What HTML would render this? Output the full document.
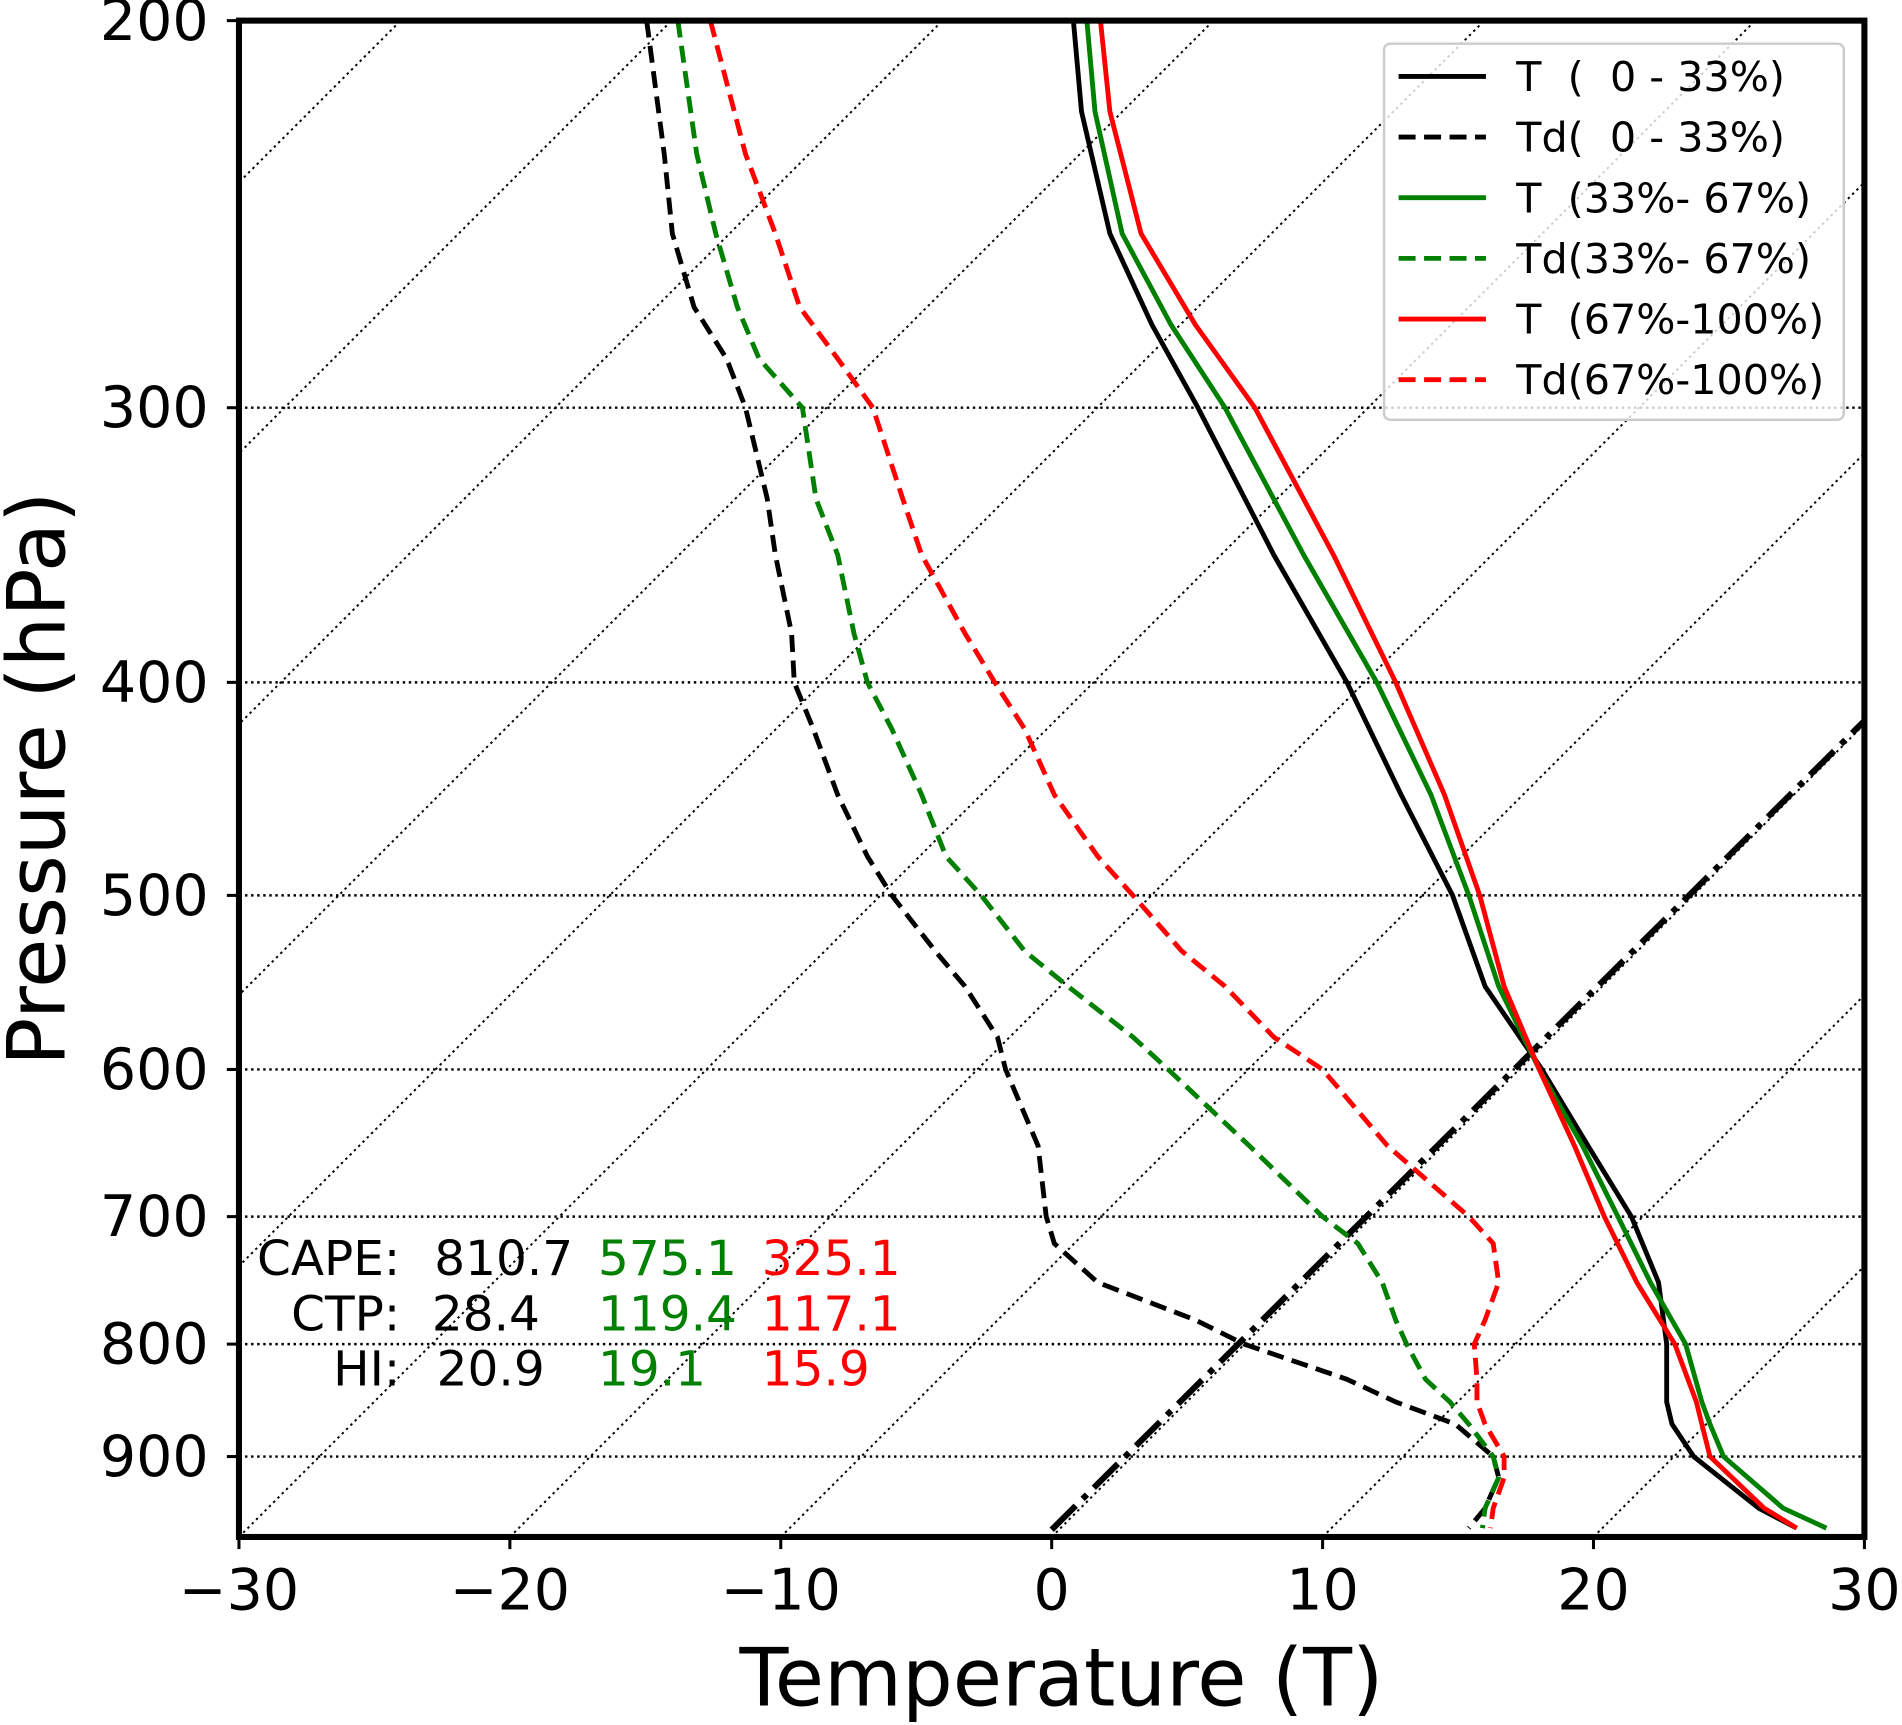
<!DOCTYPE html>
<html><head><meta charset="utf-8"><style>
html,body{margin:0;padding:0;background:#fff;}
svg{display:block;font-family:"DejaVu Sans","Liberation Sans",sans-serif;}
</style></head><body>
<svg id="chart" width="1902" height="1725" viewBox="0 0 1568 1422" preserveAspectRatio="none" xmlns="http://www.w3.org/2000/svg">
<defs><clipPath id="plotclip"><rect x="197" y="17" width="1340" height="1250"/></clipPath></defs>
<g id="grid" clip-path="url(#plotclip)"></g>
<g id="series" clip-path="url(#plotclip)"></g>
<rect x="197" y="17" width="1340" height="1250" fill="none" stroke="#000" stroke-width="5"/>
<g id="axes"></g>
<text x="875" y="1406" font-size="66" text-anchor="middle">Temperature (T)</text>
<text transform="translate(53,642) rotate(-90)" font-size="66" text-anchor="middle">Pressure (hPa)</text>
<g>
<rect x="1141" y="36" width="379" height="310" rx="5" fill="#fff" fill-opacity="0.8" stroke="#ccc" stroke-width="2"/>
<g id="legend-items" font-size="34"></g>
</g>
<g font-size="40">
<text x="330" y="1051" text-anchor="end">CAPE:</text>
<text x="330" y="1097" text-anchor="end">CTP:</text>
<text x="330" y="1142" text-anchor="end">HI:</text>
<text x="358" y="1051">810.7</text><text x="493" y="1051" fill="#008000">575.1</text><text x="628" y="1051" fill="#ff0000">325.1</text>
<text x="356" y="1097">28.4</text><text x="493" y="1097" fill="#008000">119.4</text><text x="628" y="1097" fill="#ff0000">117.1</text>
<text x="360" y="1142">20.9</text><text x="493" y="1142" fill="#008000">19.1</text><text x="628" y="1142" fill="#ff0000">15.9</text>
</g>
</svg>
<script>
const pLevels = [200,220,250,275,300,350,400,450,500,550,600,650,700,750,800,850,870,900,950,970];
const tLow  = [0.8,1.1,2.15,3.7,5.4,8.2,10.9,12.9,14.8,16.0,18.1,19.8,21.4,22.4,22.7,22.7,22.9,23.7,26.1,27.5];
const tMid  = [1.3,1.6,2.6,4.4,6.4,9.3,12.0,14.0,15.4,16.5,18.0,19.6,20.9,22.1,23.4,24.0,24.3,24.8,27.0,28.6];
const tHigh = [1.8,2.15,3.3,5.3,7.5,10.4,12.7,14.5,15.8,16.7,18.0,19.3,20.4,21.6,23.0,23.8,24.0,24.3,26.3,27.5];
const pDew = [200,230,250,270,285,300,330,350,380,400,420,450,480,500,530,550,580,600,650,700,720,750,780,800,830,850,870,900,920,950,970];
const tdLow  = [-14.95,-14.3,-14.0,-13.2,-12.0,-11.3,-10.5,-10.2,-9.6,-9.5,-8.8,-7.9,-6.8,-5.9,-4.3,-3.2,-2.0,-1.7,-0.5,-0.2,0.1,1.7,5.3,7.1,10.9,12.7,14.9,16.3,16.5,16.0,15.4];
const tdMid  = [-13.8,-13.1,-12.4,-11.6,-10.8,-9.2,-8.7,-7.9,-7.3,-6.8,-5.9,-4.8,-3.9,-2.6,-1.0,0.6,3.0,4.3,7.3,10.0,11.3,12.2,12.7,13.1,13.8,14.7,15.4,16.3,16.5,16.0,15.9];
const tdHigh = [-12.6,-11.3,-10.2,-9.3,-7.9,-6.6,-5.5,-4.8,-3.2,-2.1,-1.0,0.1,1.7,3.0,4.8,6.4,8.2,10.0,12.4,15.4,16.3,16.5,16.0,15.6,15.7,15.7,16.0,16.7,16.7,16.3,16.2];
const xTicks = [-30,-20,-10,0,10,20,30];
const yTicks = [200,300,400,500,600,700,800,900];
const isotherms = [-90,-80,-70,-60,-50,-40,-30,-20,-10,0,10,20,30];
const legendLabels = ["T  (  0 - 33%)","Td(  0 - 33%)","T  (33%- 67%)","Td(33%- 67%)","T  (67%-100%)","Td(67%-100%)"];

const NS="http://www.w3.org/2000/svg";
const X0=197,X1=1537,Y0=17,Y1=1267;
function xs(t){return X0+(t+30)*(X1-X0)/60;}
function ys(p){return Y0+787*Math.log(p/200);}
function mk(tag,attrs,parent){const e=document.createElementNS(NS,tag);for(const k in attrs)e.setAttribute(k,attrs[k]);parent.appendChild(e);return e;}
const grid=document.getElementById('grid'),series=document.getElementById('series'),axes=document.getElementById('axes');

yTicks.forEach(p=>{
  const l=mk('line',{x1:X0,x2:X1,y1:ys(p),y2:ys(p),stroke:'#000','stroke-width':2,'stroke-dasharray':'2,3'},grid);
  
  
  const t=mk('line',{x1:X0-10,x2:X0,y1:ys(p),y2:ys(p),stroke:'#000','stroke-width':2.5},axes);
  
  
  const tx=mk('text',{x:X0-25,y:ys(p)+16,'font-size':47,'text-anchor':'end'},axes);
  tx.textContent=p;
  
  
});
xTicks.forEach(v=>{
  const t=mk('line',{x1:xs(v),x2:xs(v),y1:Y1,y2:Y1+10,stroke:'#000','stroke-width':2.5},axes);
  
  
  const tx=mk('text',{x:xs(v),y:Y1+60,'font-size':47,'text-anchor':'middle'},axes);
  tx.textContent=(v<0?'\u2212'+(-v):v);
  
  
});
isotherms.forEach(v=>{
  const xb=xs(v);
  const l=mk('line',{x1:xb,y1:Y1,x2:xb+(Y1-Y0),y2:Y0,stroke:'#000','stroke-width':1.6,'stroke-dasharray':'2,3'},grid);
  
  
});
const zl=mk('line',{x1:xs(0),y1:Y1-6,x2:xs(0)+(Y1-Y0),y2:Y0,stroke:'#000','stroke-width':5,'stroke-dasharray':'28,8,5,8'},series);



function path(ps,ts,color,dash,name){
  const d=ps.map((p,i)=>(i?'L':'M')+xs(ts[i]).toFixed(1)+','+ys(p).toFixed(1)).join(' ');
  const e=mk('path',{d:d,fill:'none',stroke:color,'stroke-width':4,'stroke-linejoin':'round'},series);
  if(dash)e.setAttribute('stroke-dasharray','14,7');
  
  
}
path(pDew,tdLow,'#000',true,'td-low-line');
path(pDew,tdMid,'#008000',true,'td-mid-line');
path(pDew,tdHigh,'#ff0000',true,'td-high-line');
path(pLevels,tLow,'#000',false,'t-low-line');
path(pLevels,tMid,'#008000',false,'t-mid-line');
path(pLevels,tHigh,'#ff0000',false,'t-high-line');

const li=document.getElementById('legend-items');
const lc=['#000','#000','#008000','#008000','#ff0000','#ff0000'];
legendLabels.forEach((lab,i)=>{
  const y=63+i*50;
  const l=mk('line',{x1:1153,x2:1225,y1:y,y2:y,stroke:lc[i],'stroke-width':4},li);
  if(i%2)l.setAttribute('stroke-dasharray','14,7');
  
  
  const t=mk('text',{x:1250,y:y+12},li);
  t.setAttribute('style','white-space:pre');
  t.textContent=lab;
  
  
});
</script>
</body></html>
